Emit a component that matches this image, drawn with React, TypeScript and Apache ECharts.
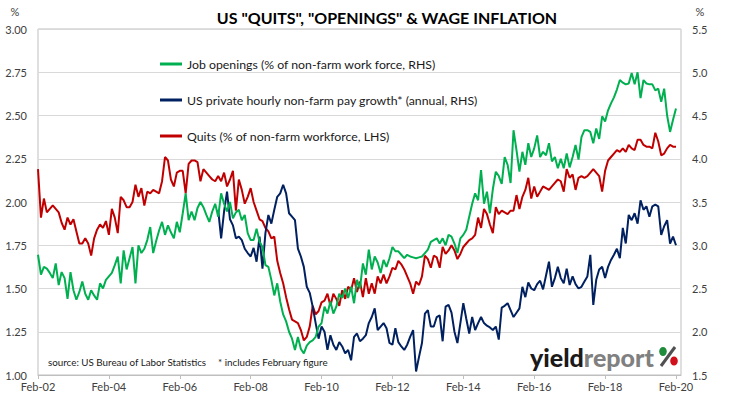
import React, { useEffect, useRef } from "react";
import * as echarts from "echarts";

// Month index 0 = Feb-02, 216 = Feb-20
const X_TICK_LABELS = ["Feb-02", "Feb-04", "Feb-06", "Feb-08", "Feb-10", "Feb-12", "Feb-14", "Feb-16", "Feb-18", "Feb-20"];

const SERIES_NAMES = [
  "Job openings (% of non-farm work force, RHS)",
  "US private hourly non-farm pay growth* (annual, RHS)",
  "Quits (% of non-farm workforce, LHS)",
];

// Quits rate, % (LHS), monthly Feb-02 .. Feb-20
const quits = [
  2.19, 1.91, 2.02, 1.94, 1.96, 1.98, 1.96, 1.94, 1.88, 1.84, 1.91, 1.87,
  1.90, 1.83, 1.76, 1.76, 1.79, 1.76, 1.69, 1.79, 1.84, 1.87, 1.85, 1.89,
  1.81, 1.96, 1.91, 1.82, 2.03, 2.01, 1.97, 1.97, 2.00, 2.10, 2.03, 2.08,
  1.98, 2.06, 2.05, 2.07, 2.06, 2.05, 2.12, 2.26, 2.24, 2.13, 2.09, 2.17,
  2.18, 2.18, 2.05, 2.22, 2.24, 2.24, 2.23, 2.12, 2.19, 2.17, 2.15, 2.13,
  2.12, 2.15, 2.12, 2.17, 2.09, 2.13, 2.18, 1.95, 2.13, 2.07, 1.99, 2.03,
  2.08, 2.00, 1.95, 1.90, 1.89, 1.85, 1.83, 1.79, 1.80, 1.66, 1.59, 1.53,
  1.45, 1.38, 1.32, 1.31, 1.30, 1.26, 1.20, 1.22, 1.28, 1.40, 1.35, 1.37,
  1.42, 1.43, 1.47, 1.40, 1.47, 1.44, 1.40, 1.49, 1.44, 1.51, 1.49, 1.56,
  1.48, 1.54, 1.45, 1.56, 1.47, 1.53, 1.47, 1.57, 1.53, 1.58, 1.53, 1.57,
  1.62, 1.61, 1.66, 1.64, 1.61, 1.57, 1.53, 1.47, 1.54, 1.52, 1.57, 1.69,
  1.67, 1.62, 1.69, 1.68, 1.62, 1.74, 1.70, 1.72, 1.75, 1.72, 1.67, 1.70,
  1.74, 1.76, 1.78, 1.79, 1.81, 1.91, 1.85, 1.96, 1.93, 1.87, 1.82, 1.97,
  1.93, 1.95, 1.94, 1.93, 1.95, 1.95, 2.04, 1.96, 2.03, 2.07, 2.14, 2.02,
  2.09, 2.03, 2.06, 2.09, 2.08, 2.07, 2.09, 2.11, 2.13, 2.12, 2.06, 2.19,
  2.14, 2.16, 2.07, 2.14, 2.15, 2.14, 2.15, 2.17, 2.19, 2.17, 2.15, 2.06,
  2.18, 2.24, 2.26, 2.28, 2.30, 2.29, 2.31, 2.29, 2.33, 2.31, 2.30, 2.36,
  2.36, 2.33, 2.32, 2.32, 2.31, 2.40, 2.35, 2.27, 2.28, 2.31, 2.33, 2.32,
  2.32,
];

// Job openings, % (RHS), monthly Feb-02 .. Feb-20
const openings = [
  2.89, 2.66, 2.75, 2.73, 2.68, 2.62, 2.79, 2.54, 2.69, 2.62, 2.38, 2.69,
  2.48, 2.37, 2.46, 2.58, 2.44, 2.37, 2.48, 2.42, 2.37, 2.56, 2.50, 2.60,
  2.64, 2.68, 2.77, 2.87, 2.56, 2.94, 2.72, 2.85, 2.98, 2.56, 3.00, 2.91,
  2.96, 3.06, 3.21, 2.91, 3.05, 3.17, 3.27, 3.12, 3.23, 3.15, 3.08, 3.27,
  3.15, 3.37, 3.60, 3.29, 3.39, 3.29, 3.43, 3.50, 3.44, 3.35, 3.27, 3.39,
  3.48, 3.33, 3.60, 3.48, 3.39, 3.50, 3.31, 3.38, 3.41, 3.29, 3.35, 3.14,
  3.06, 3.06, 3.19, 3.04, 2.98, 2.77, 2.75, 2.60, 2.42, 2.56, 2.35, 2.20,
  2.12, 2.00, 1.92, 1.79, 1.94, 1.80, 1.75, 1.84, 1.88, 1.90, 1.94, 2.06,
  2.10, 2.29, 2.21, 2.35, 2.21, 2.29, 2.44, 2.39, 2.50, 2.39, 2.52, 2.33,
  2.60, 2.50, 2.79, 2.66, 2.95, 2.72, 2.87, 2.80, 2.68, 2.83, 2.75, 2.85,
  2.98, 2.93, 2.93, 2.89, 2.85, 2.89, 2.87, 2.86, 2.85, 2.86, 2.87, 2.91,
  2.95, 3.04, 3.06, 3.08, 3.02, 3.08, 3.00, 3.12, 3.10, 3.02, 2.91, 3.08,
  3.12, 3.18, 3.33, 3.48, 3.60, 3.52, 3.87, 3.48, 3.62, 3.37, 3.65, 3.85,
  3.80, 3.71, 4.02, 3.93, 3.72, 4.33, 4.10, 3.85, 4.08, 3.93, 4.18, 4.02,
  4.12, 4.27, 4.02, 4.08, 4.04, 4.18, 3.97, 4.02, 3.89, 4.00, 3.89, 4.06,
  3.90, 4.02, 4.16, 3.99, 4.25, 4.33, 4.33, 4.31, 4.18, 4.35, 4.23, 4.49,
  4.43, 4.56, 4.64, 4.71, 4.80, 4.91, 4.88, 4.86, 4.87, 4.99, 4.86, 5.00,
  4.70, 4.91, 4.87, 4.86, 4.86, 4.79, 4.81, 4.66, 4.81, 4.50, 4.31, 4.45,
  4.58,
];

// Hourly pay growth, % y/y (RHS), monthly Mar-07 .. Feb-20
const WAGE_START_INDEX = 61;
const wages = [
  3.41, 3.08, 3.39, 3.62, 3.30, 3.23, 3.08, 3.10, 3.06, 2.96, 2.91, 2.87,
  2.97, 2.81, 3.10, 2.73, 3.14, 3.35, 3.25, 3.41, 3.56, 3.60, 3.70, 3.60,
  3.37, 3.33, 3.29, 2.96, 2.87, 2.75, 2.52, 2.45, 2.29, 2.10, 1.92, 2.06,
  2.00, 1.79, 1.96, 1.85, 1.79, 1.88, 1.83, 1.75, 1.79, 1.67, 1.94, 1.98,
  1.89, 1.92, 1.96, 2.10, 2.17, 2.27, 2.02, 2.06, 2.10, 2.04, 1.87, 1.85,
  2.04, 1.88, 1.83, 1.79, 1.85, 1.94, 2.02, 1.54, 1.71, 1.87, 2.21, 2.25,
  2.06, 2.06, 2.17, 2.19, 1.89, 2.29, 2.31, 2.22, 2.00, 1.87, 2.10, 2.33,
  2.15, 1.98, 2.17, 2.02, 2.10, 2.17, 2.10, 2.07, 2.05, 2.02, 2.06, 1.91,
  2.28, 2.30, 2.33, 2.25, 2.17, 2.22, 2.27, 2.52, 2.40, 2.57, 2.50, 2.48,
  2.55, 2.59, 2.49, 2.65, 2.81, 2.52, 2.62, 2.75, 2.62, 2.56, 2.73, 2.54,
  2.64, 2.55, 2.50, 2.52, 2.58, 2.64, 2.89, 2.31, 2.60, 2.72, 2.75, 2.62,
  2.75, 2.83, 2.89, 2.96, 2.85, 3.20, 3.02, 3.35, 3.29, 3.37, 3.25, 3.52,
  3.41, 3.45, 3.33, 3.45, 3.47, 3.45, 3.12, 3.22, 3.29, 3.02, 3.10, 3.00,
];

const FONT = 'Lato, "Noto Sans", "Liberation Sans", sans-serif';
const LABEL_COLOR = "#404040";

export default function App() {
  const ref = useRef<HTMLDivElement>(null);

  useEffect(() => {
    if (!ref.current) return;
    const chart = echarts.init(ref.current, undefined, { renderer: "svg" });

    const option: any = {
      animation: false,
      backgroundColor: "#ffffff",
      textStyle: { fontFamily: FONT },
      grid: {
        left: 38,
        right: 50,
        top: 29,
        bottom: 24,
        show: true,
        borderColor: "#bfbfbf",
        borderWidth: 1,
        backgroundColor: "transparent",
      },
      legend: {
        orient: "vertical",
        left: 155,
        top: 51,
        itemWidth: 22,
        itemHeight: 3,
        itemGap: 20,
        icon: "rect",
        textStyle: { fontFamily: FONT, fontSize: 12.3, color: "#1a1a1a", lineHeight: 16 },
        data: SERIES_NAMES,
      },
      xAxis: {
        type: "value",
        min: 0,
        max: 217.7,
        interval: 24,
        axisLine: { show: true, lineStyle: { color: "#bfbfbf", width: 1 } },
        axisTick: { show: true, length: 4, lineStyle: { color: "#bfbfbf" } },
        axisLabel: {
          color: LABEL_COLOR,
          fontFamily: FONT,
          fontSize: 11,
          margin: 6,
          showMaxLabel: false,
          formatter: (v: number) => (Math.abs(v % 24) < 1e-6 ? X_TICK_LABELS[Math.round(v / 24)] || "" : ""),
        },
        splitLine: { show: false },
      },
      yAxis: [
        {
          type: "value",
          position: "left",
          min: 1,
          max: 3,
          interval: 0.25,
          axisLine: { show: false },
          axisTick: { show: false },
          axisLabel: {
            color: LABEL_COLOR,
            fontFamily: FONT,
            fontSize: 11,
            margin: 11,
            formatter: (v: number) => v.toFixed(2),
          },
          splitLine: { show: true, lineStyle: { color: "#d9d9d9", width: 1 } },
        },
        {
          type: "value",
          position: "right",
          min: 1.5,
          max: 5.5,
          interval: 0.5,
          axisLine: { show: false },
          axisTick: { show: false },
          axisLabel: {
            color: LABEL_COLOR,
            fontFamily: FONT,
            fontSize: 11,
            margin: 11,
            formatter: (v: number) => v.toFixed(1),
          },
          splitLine: { show: false },
        },
      ],
      series: [
        {
          name: SERIES_NAMES[2],
          type: "line",
          yAxisIndex: 0,
          showSymbol: false,
          color: "#c00000",
          lineStyle: { width: 2, color: "#c00000" },
          data: quits.map((v, i) => [i, v]),
        },
        {
          name: SERIES_NAMES[1],
          type: "line",
          yAxisIndex: 1,
          showSymbol: false,
          color: "#002060",
          lineStyle: { width: 2, color: "#002060" },
          data: wages.map((v, i) => [i + WAGE_START_INDEX, v]),
        },
        {
          name: SERIES_NAMES[0],
          type: "line",
          yAxisIndex: 1,
          showSymbol: false,
          color: "#00b050",
          lineStyle: { width: 2, color: "#00b050" },
          data: openings.map((v, i) => [i, v]),
        },
      ],
      graphic: [
        {
          type: "text",
          x: 387,
          y: 17,
          style: {
            text: 'US "QUITS", "OPENINGS" & WAGE INFLATION',
            fontFamily: FONT,
            fontSize: 16,
            fontWeight: "bold",
            fill: "#000",
            align: "center",
            verticalAlign: "middle",
          },
        },
        {
          type: "text",
          x: 15,
          y: 11,
          style: { text: "%", fontFamily: FONT, fontSize: 11, fill: LABEL_COLOR, align: "center", verticalAlign: "middle" },
        },
        {
          type: "text",
          x: 700,
          y: 11,
          style: { text: "%", fontFamily: FONT, fontSize: 11, fill: LABEL_COLOR, align: "center", verticalAlign: "middle" },
        },
        {
          type: "text",
          x: 48,
          y: 362,
          style: {
            text: "source: US Bureau of Labor Statistics",
            fontFamily: FONT,
            fontSize: 9.8,
            fill: "#1a1a1a",
            align: "left",
            verticalAlign: "middle",
          },
        },
        {
          type: "text",
          x: 218,
          y: 362,
          style: {
            text: "* includes February figure",
            fontFamily: FONT,
            fontSize: 9.8,
            fill: "#1a1a1a",
            align: "left",
            verticalAlign: "middle",
          },
        },
        {
          type: "text",
          x: 530,
          y: 357,
          style: {
            text: "{a|yield}{b|report}",
            align: "left",
            verticalAlign: "middle",
            rich: {
              a: { fontFamily: FONT, fontSize: 25, fontWeight: 900, fill: "#1a1a1a" },
              b: { fontFamily: FONT, fontSize: 25, fontWeight: 900, fill: "#808080" },
            },
          },
        },
        {
          type: "line",
          shape: { x1: 675, y1: 347, x2: 661, y2: 366 },
          style: { stroke: "#505050", lineWidth: 3 },
        },
        {
          type: "ellipse",
          shape: { cx: 663, cy: 351.5, rx: 3.8, ry: 4.5 },
          style: { fill: "#1e8c3a" },
        },
        {
          type: "ellipse",
          shape: { cx: 674, cy: 361, rx: 3.8, ry: 4.5 },
          style: { fill: "#d0101b" },
        },
      ],
    };

    chart.setOption(option);
    return () => chart.dispose();
  }, []);

  return (
    <div
      ref={ref}
      style={{ position: "fixed", left: 0, top: 0, width: 731, height: 399, background: "#fff" }}
    />
  );
}
